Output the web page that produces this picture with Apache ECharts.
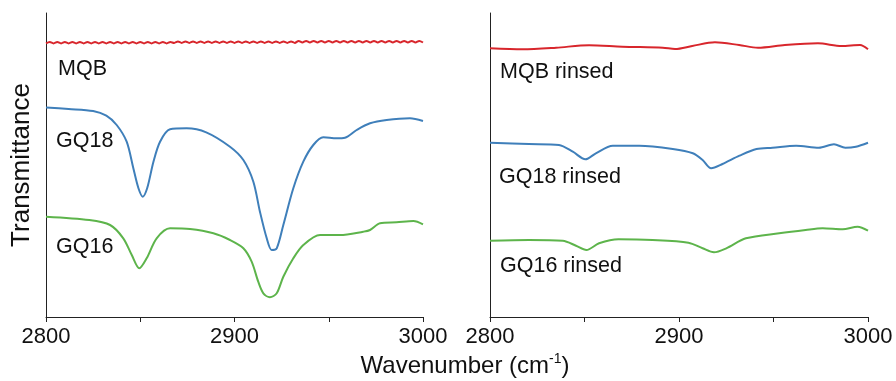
<!DOCTYPE html>
<html>
<head>
<meta charset="utf-8">
<script src="https://cdn.jsdelivr.net/npm/echarts@6/dist/echarts.min.js"></script>
<style>
html,body{margin:0;padding:0;background:#fff;}
#chart{width:896px;height:381px;}
</style>
</head>
<body>
<div id="chart"></div>
<script>
// ---- Data (transmittance in arbitrary units, offset traces) ----
const xTicks = [2800, 2900, 3000];

// Left panel
const mqbWn = [2800,2802,2804,2806,2808,2810,2812,2814,2816,2818,2820,2822,2824,2826,2828,2830,2832,2834,2836,2838,2840,2842,2844,2846,2848,2850,2852,2854,2856,2858,2860,2862,2864,2866,2868,2870,2872,2874,2876,2878,2880,2882,2884,2886,2888,2890,2892,2894,2896,2898,2900,2902,2904,2906,2908,2910,2912,2914,2916,2918,2920,2922,2924,2926,2928,2930,2932,2934,2936,2938,2940,2942,2944,2946,2948,2950,2952,2954,2956,2958,2960,2962,2964,2966,2968,2970,2972,2974,2976,2978,2980,2982,2984,2986,2988,2990,2992,2994,2996,2998,3000];
const mqbVal = [273.6,275.0,273.6,275.0,273.6,275.0,273.6,275.0,273.6,275.0,273.6,275.0,273.6,275.0,273.6,275.0,273.6,275.0,273.6,275.0,273.6,275.0,273.6,275.0,273.6,275.0,273.6,275.0,273.6,275.0,273.6,275.0,273.6,275.0,
274.1,275.5,274.1,275.5,274.1,275.5,274.1,275.5,274.1,275.5,274.1,275.5,274.1,275.5,274.1,275.5,274.1,275.5,274.1,275.5,274.1,275.5,274.1,275.5,274.1,275.5,274.1,275.5,274.1,275.5,274.1,275.5,274.1,
276.1,274.5,276.1,274.5,276.1,274.5,276.1,274.5,276.1,274.5,276.1,274.5,276.1,274.5,276.1,274.5,276.1,274.5,276.1,274.5,276.1,274.5,276.1,274.5,276.1,274.5,276.1,274.5,276.1,274.5,276.1,274.5,276.1,274.5];

const gq18Wn  = [2800,2812,2825,2832,2837.5,2842.8,2846.3,2849,2851.3,2853.7,2857,2860.5,2865.8,2874.6,2885,2897.6,2904.7,2910,2913.5,2917.1,2919.7,2922.4,2925.9,2931.2,2936.5,2941.8,2947.1,2954.2,2958.6,2964.8,2971.9,2980.7,2993.1,3000];
const gq18Val = [209.5,208,206,201.3,192,175.3,149,129,120.3,129,155.3,175.3,187.7,188.7,184.7,170.3,157,135.3,105.3,78.7,67,68.7,92,128.7,155.3,172,179.7,178.7,179.3,187,193.7,197,198.7,196];

const gq16Wn  = [2800,2823,2834,2841,2845.5,2849.5,2853.4,2858.7,2865.8,2876.4,2888.8,2897.6,2904.7,2909.1,2912.6,2915.3,2918.8,2922.4,2925.9,2931.2,2936.5,2945.4,2956,2968.3,2971.9,2977.2,2986,2994.9,3000];
const gq16Val = [100.3,97,92,78.7,62,48.7,58.7,78.7,88.7,88,83.7,77,68.7,55.3,35.3,23.7,19.7,23.7,40.3,58.7,72,82,82,85.3,87,93.7,94.7,96,92.7];

// Right panel (rinsed)
const mqbRWn  = [2800,2817.3,2835,2852.4,2870,2891.4,2897.9,2907,2919,2931.8,2941.8,2956,2973.5,2986,2995.8,3000];
const mqbRVal = [268.7,267.7,269.3,271.8,270.3,269.3,268,271,274.7,272,269.3,272,273.7,271,272,267.7];

const gq18RWn  = [2800,2820.6,2836.5,2843.8,2850.5,2856,2865,2879,2896.7,2907.3,2912.5,2917,2923,2932,2941,2949.5,2962,2974,2982,2988,2993.6,3000];
const gq18RVal = [174.3,173,172,165.3,157.7,163.7,171.3,171.3,168,163.7,157,148.7,153,161.3,168,169.3,171.3,169.3,172.7,169.3,170.3,174.3];

const gq16RWn  = [2800,2820.6,2838.5,2845.5,2851,2857.7,2868,2886,2905,2912.5,2918.5,2925,2935.4,2953,2967,2976,2986.6,2994.5,3000];
const gq16RVal = [76.3,77,76.3,71.3,67,73.7,77.7,77,74.3,68.7,64.7,68.7,78.7,83.7,87,88.7,87.7,90.3,86.3];

const seriesNames = ['MQB','GQ18','GQ16','MQB rinsed','GQ18 rinsed','GQ16 rinsed'];
const colors = { red:'#d8262c', blue:'#3f7fba', green:'#5db44b' };

function pairs(xs, ys){ return xs.map((x,i)=>[x, ys[i]]); }

const FONT = '"Liberation Sans", Arial, Helvetica, sans-serif';

const chart = echarts.init(document.getElementById('chart'));

function xAxisCfg(gi){
  return {
    gridIndex: gi, type:'value', min:2800, max:3000, interval:50,
    axisLine:{show:true, lineStyle:{color:'#222', width:1}},
    axisTick:{show:true, inside:false, length:5, lineStyle:{color:'#222'}},
    axisLabel:{show:true, margin:9, fontSize:22, color:'#111', fontFamily:FONT,
      formatter:function(v){ return xTicks.indexOf(v) >= 0 ? String(v) : ''; }},
    splitLine:{show:false}
  };
}
function yAxisCfg(gi){
  return {
    gridIndex: gi, type:'value', min:0, max:304,
    axisLine:{show:true, onZero:false, lineStyle:{color:'#222', width:1}},
    axisTick:{show:false}, axisLabel:{show:false}, splitLine:{show:false}
  };
}
function line(name, data, color, gi, smooth){
  return {
    name, type:'line', xAxisIndex:gi, yAxisIndex:gi, data,
    showSymbol:false, symbol:'none', smooth: smooth,
    lineStyle:{color, width:2}, itemStyle:{color}, animation:false
  };
}

function label(text, x, y){
  return {type:'text', x, y, style:{text, fontSize:21.5, fontFamily:FONT, fill:'#111',
    align:'left', verticalAlign:'middle', textAlign:'left', textVerticalAlign:'middle'}};
}

chart.setOption({
  backgroundColor:'#fff',
  animation:false,
  grid:[
    {left:46, top:13, width:377, height:304},
    {left:490, top:13, width:378, height:304}
  ],
  xAxis:[xAxisCfg(0), xAxisCfg(1)],
  yAxis:[yAxisCfg(0), yAxisCfg(1)],
  series:[
    line(seriesNames[0], pairs(mqbWn, mqbVal), colors.red, 0, 0.3),
    line(seriesNames[1], pairs(gq18Wn, gq18Val), colors.blue, 0, 0.3),
    line(seriesNames[2], pairs(gq16Wn, gq16Val), colors.green, 0, 0.3),
    line(seriesNames[3], pairs(mqbRWn, mqbRVal), colors.red, 1, 0.3),
    line(seriesNames[4], pairs(gq18RWn, gq18RVal), colors.blue, 1, 0.3),
    line(seriesNames[5], pairs(gq16RWn, gq16RVal), colors.green, 1, 0.3)
  ],
  graphic:[
    label(seriesNames[0], 58, 69),
    label(seriesNames[1], 56, 141),
    label(seriesNames[2], 56, 247),
    label(seriesNames[3], 500, 72),
    label(seriesNames[4], 499, 177),
    label(seriesNames[5], 500, 266),
    {type:'text', x:22, y:165, rotation:Math.PI/2,
      style:{text:'Transmittance', fontSize:26, fontFamily:FONT, fill:'#111',
        align:'center', verticalAlign:'middle', textAlign:'center', textVerticalAlign:'middle'}},
    {type:'text', x:465, y:366,
      style:{text:'{a|Wavenumber (cm}{s|-1}{a|)}', fill:'#111',
        align:'center', verticalAlign:'middle', textAlign:'center', textVerticalAlign:'middle',
        rich:{
          a:{fontSize:24, fontFamily:FONT, fill:'#111', lineHeight:28},
          s:{fontSize:14, fontFamily:FONT, fill:'#111', verticalAlign:'top', lineHeight:16}
        }}}
  ]
});
</script>
</body>
</html>
